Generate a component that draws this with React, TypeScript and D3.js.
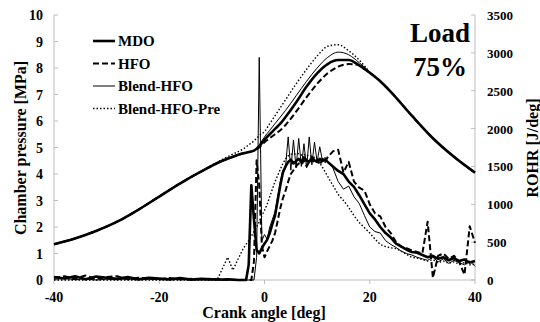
import React, { useEffect, useRef } from 'react';
import * as d3 from 'd3';

// crank angles for chamber pressure
const pAngle = [-40, -36, -32, -28, -24, -20, -16, -12, -8, -6, -4, -3, -2, -1, 0, 1, 2, 3, 4, 6, 8, 10, 12, 14, 16, 18, 20, 22, 24, 28, 32, 36, 40];
// chamber pressure [MPa]
const pMDO = [1.35, 1.57, 1.85, 2.2, 2.65, 3.15, 3.65, 4.1, 4.5, 4.65, 4.78, 4.83, 4.88, 5.05, 5.3, 5.5, 5.7, 5.9, 6.15, 6.7, 7.3, 7.8, 8.15, 8.3, 8.3, 8.1, 7.82, 7.5, 7.1, 6.2, 5.35, 4.65, 4.05];
const pHFO = [1.35, 1.57, 1.85, 2.2, 2.65, 3.15, 3.65, 4.1, 4.5, 4.65, 4.78, 4.83, 4.88, 5.0, 5.2, 5.35, 5.5, 5.65, 5.85, 6.35, 6.9, 7.4, 7.8, 8.05, 8.15, 8.1, 7.82, 7.5, 7.1, 6.2, 5.35, 4.65, 4.05];
const pBlend = [1.35, 1.57, 1.85, 2.2, 2.65, 3.15, 3.65, 4.1, 4.5, 4.65, 4.78, 4.83, 4.88, 5.1, 5.4, 5.65, 5.9, 6.15, 6.4, 6.95, 7.5, 8.0, 8.4, 8.6, 8.5, 8.2, 7.85, 7.5, 7.1, 6.2, 5.35, 4.65, 4.05];
const pPre = [1.35, 1.57, 1.85, 2.2, 2.65, 3.15, 3.65, 4.1, 4.55, 4.75, 4.95, 5.1, 5.25, 5.45, 5.6, 5.9, 6.2, 6.5, 6.8, 7.4, 7.95, 8.45, 8.82, 8.88, 8.65, 8.3, 7.85, 7.5, 7.1, 6.2, 5.35, 4.65, 4.05];

// crank angles for ROHR
const rAngle = [-40, -38, -36, -34, -32, -30, -28, -26, -24, -22, -20, -18, -16, -14, -12, -10,
  -9, -8, -7, -6, -5, -4,
  -3.5, -3, -2.5, -2, -1.5, -1, -0.5, 0, 0.5, 1, 1.5, 2, 2.5, 3, 3.5, 4, 4.5, 5, 5.5, 6, 6.5, 7, 7.5, 8, 8.5, 9, 9.5, 10, 10.5, 11, 11.5, 12,
  13, 14, 15, 16, 17, 18, 19, 20, 21, 22, 23, 24, 25, 26, 27, 28, 29, 30, 31, 32, 33, 34, 35, 36, 37, 38, 39, 40];
// ROHR [J/deg]
const rMDO = [40, 20, 50, 10, 45, 30, 15, 40, 10, 30, 20, 10, 25, 5, 15, 10,
  10, 5, 10, 5, 0, 0,
  0, 200, 1250, 800, 400, 350, 420, 480, 530, 620, 740, 850, 1050, 1250, 1420, 1500, 1560, 1590, 1540, 1570, 1600, 1560, 1620, 1580, 1560, 1620, 1580, 1560, 1600, 1570, 1590, 1560,
  1500, 1440, 1400, 1300, 1230, 1120, 1000, 880, 800, 700, 620, 560, 480, 440, 400, 370, 360, 330, 300, 320, 280, 300, 260, 290, 250, 270, 230, 250];
const rHFO = [30, 50, 20, 60, 15, 40, 50, 10, 30, 20, 10, 25, 5, 15, 10, 5,
  5, 0, 5, 0, 0, 0,
  0, 0, 0, 250, 1580, 1250, 450, 300, 380, 450, 520, 620, 780, 950, 1080, 1180, 1300, 1400, 1450, 1500, 1540, 1520, 1580, 1500, 1560, 1600, 1540, 1580, 1520, 1600, 1560, 1620,
  1700, 1720, 1420, 1560, 1300, 1220, 1180, 1000, 880, 840, 700, 620, 500, 440, 420, 390, 370, 350, 770, 30, 320, 350, 280, 320, 240, 70, 710, 490];
const rBlend = [10, 20, 5, 15, 0, 10, 5, 15, 0, 10, 5, 0, 10, 0, 5, 0,
  0, 0, 0, 0, 0, 0,
  0, 0, 0, 0, 300, 2940, 520, 600, 540, 700, 800, 900, 1100, 1300, 1450, 1500, 1890, 1450, 1850, 1480, 1870, 1500, 1800, 1480, 1890, 1520, 1820, 1560, 1760, 1580, 1620, 1560,
  1480, 1300, 1200, 1240, 1100, 1010, 850, 700, 640, 620, 520, 470, 430, 380, 350, 330, 300, 280, 260, 300, 240, 280, 220, 260, 230, 200, 250, 180];
const rPre = [0, 0, 0, 0, 0, 0, 0, 0, 0, 0, 0, 0, 0, 0, 0, 0,
  0, 150, 300, 130, 280, 420,
  470, 520, 580, 640, 700, 770, 850, 920, 1000, 1100, 1200, 1300, 1380, 1460, 1540, 1600, 1640, 1660, 1670, 1660, 1670, 1650, 1660, 1640, 1650, 1630, 1620, 1600, 1550, 1490, 1430, 1370,
  1250, 1130, 1050, 960, 850, 760, 690, 620, 540, 470, 440, 425, 415, 380, 340, 300, 290, 270, 250, 270, 230, 250, 220, 240, 210, 230, 200, 210];

const seriesNames = ['MDO', 'HFO', 'Blend-HFO', 'Blend-HFO-Pre'];
const xTicks = [-40, -20, 0, 20, 40];
const leftTicks = [0, 1, 2, 3, 4, 5, 6, 7, 8, 9, 10];
const rightTicks = [0, 500, 1000, 1500, 2000, 2500, 3000, 3500];

export default function App() {
  const ref = useRef<SVGSVGElement>(null);

  useEffect(() => {
    const svg = d3.select(ref.current);
    svg.selectAll('*').remove();

    const width = 540;
    const height = 322;
    const left = 54, right = 475, top = 15, bottom = 280;
    const font = '"Liberation Serif", "Times New Roman", serif';
    const axisColor = '#bdbdbd';

    const x = d3.scaleLinear().domain([-40, 40]).range([left, right]);
    const yL = d3.scaleLinear().domain([0, 10]).range([bottom, top]);
    const yR = d3.scaleLinear().domain([0, 3500]).range([bottom, top]);

    // line styles: MDO thick, HFO dashed, Blend thin, Pre dotted
    const styles = [
      { w: 2.6, dash: null },
      { w: 2, dash: '6,3' },
      { w: 1, dash: null },
      { w: 1.4, dash: '1.5,2' },
    ];

    // axes
    const g = svg.append('g');
    g.append('line').attr('x1', left).attr('x2', left).attr('y1', top).attr('y2', bottom).attr('stroke', axisColor);
    g.append('line').attr('x1', right).attr('x2', right).attr('y1', top).attr('y2', bottom).attr('stroke', axisColor);
    g.append('line').attr('x1', left).attr('x2', right).attr('y1', bottom).attr('y2', bottom).attr('stroke', axisColor);

    leftTicks.forEach(t => {
      g.append('line').attr('x1', left).attr('x2', left + 4).attr('y1', yL(t)).attr('y2', yL(t)).attr('stroke', axisColor);
      g.append('text').attr('x', 43).attr('y', yL(t) + 5).attr('text-anchor', 'end')
        .attr('font-family', font).attr('font-weight', 'bold').attr('font-size', 14).text(t);
    });
    rightTicks.forEach(t => {
      g.append('line').attr('x1', right - 4).attr('x2', right).attr('y1', yR(t)).attr('y2', yR(t)).attr('stroke', axisColor);
      g.append('text').attr('x', 487).attr('y', yR(t) + 5).attr('text-anchor', 'start')
        .attr('font-family', font).attr('font-weight', 'bold').attr('font-size', 13).text(t);
    });
    xTicks.forEach(t => {
      g.append('line').attr('x1', x(t)).attr('x2', x(t)).attr('y1', bottom).attr('y2', bottom + 4).attr('stroke', axisColor);
      g.append('text').attr('x', x(t)).attr('y', 302).attr('text-anchor', 'middle')
        .attr('font-family', font).attr('font-weight', 'bold').attr('font-size', 14).text(t);
    });

    // axis titles
    g.append('text').attr('x', 264).attr('y', 318).attr('text-anchor', 'middle')
      .attr('font-family', font).attr('font-weight', 'bold').attr('font-size', 16).text('Crank angle [deg]');
    g.append('text').attr('transform', 'translate(26,148) rotate(-90)').attr('text-anchor', 'middle')
      .attr('font-family', font).attr('font-weight', 'bold').attr('font-size', 16).text('Chamber pressure [MPa]');
    g.append('text').attr('transform', 'translate(538,148) rotate(-90)').attr('text-anchor', 'middle')
      .attr('font-family', font).attr('font-weight', 'bold').attr('font-size', 16).text('ROHR [J/deg]');

    // ROHR curves
    const rohr = [rMDO, rHFO, rBlend, rPre];
    const rLine = d3.line<number>().x((d, i) => x(rAngle[i])).y(d => yR(d));
    rohr.forEach((vals, k) => {
      svg.append('path').attr('d', rLine(vals))
        .attr('fill', 'none').attr('stroke', '#000')
        .attr('stroke-width', styles[k].w)
        .attr('stroke-dasharray', styles[k].dash)
        .attr('stroke-linejoin', 'round');
    });

    // pressure curves
    const press = [pMDO, pHFO, pBlend, pPre];
    const pLine = d3.line<number>().x((d, i) => x(pAngle[i])).y(d => yL(d)).curve(d3.curveMonotoneX);
    press.forEach((vals, k) => {
      svg.append('path').attr('d', pLine(vals))
        .attr('fill', 'none').attr('stroke', '#000')
        .attr('stroke-width', styles[k].w)
        .attr('stroke-dasharray', styles[k].dash);
    });

    // legend
    seriesNames.forEach((name, k) => {
      const yy = 41 + k * 22.5;
      svg.append('line').attr('x1', 93).attr('x2', 115).attr('y1', yy).attr('y2', yy)
        .attr('stroke', '#000').attr('stroke-width', styles[k].w)
        .attr('stroke-dasharray', styles[k].dash);
      svg.append('text').attr('x', 118).attr('y', yy + 5)
        .attr('font-family', font).attr('font-weight', 'bold').attr('font-size', 15).text(name);
    });

    // load label
    svg.append('text').attr('x', 440).attr('y', 42).attr('text-anchor', 'middle')
      .attr('font-family', font).attr('font-weight', 'bold').attr('font-size', 27).text('Load');
    svg.append('text').attr('x', 440).attr('y', 76).attr('text-anchor', 'middle')
      .attr('font-family', font).attr('font-weight', 'bold').attr('font-size', 27).text('75%');

    svg.attr('width', width).attr('height', height);
  }, []);

  return (
    <svg ref={ref} width={540} height={322}
      style={{ position: 'absolute', left: 0, top: 0, background: '#fff' }} />
  );
}
